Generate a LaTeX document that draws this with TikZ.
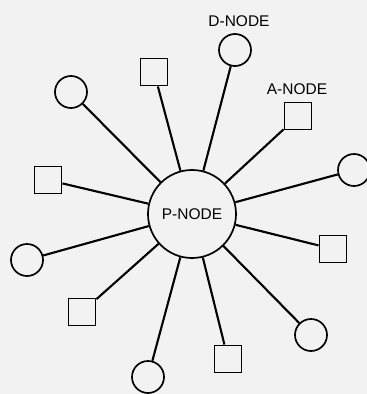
\documentclass[tikz,border=0pt]{standalone}
\usepackage{fontspec}
\setmainfont{Liberation Sans}
\usepackage{tikz}

\begin{document}
\begin{tikzpicture}[
x=0.025cm,
y=-0.025cm,
every node/.style={font=\fontsize{11}{13}\selectfont},
pnode/.style={circle,draw,line width=1.2pt,minimum size=2.2cm,inner sep=0pt},
dnode/.style={circle,draw,line width=1.2pt,minimum size=0.8cm,inner sep=0pt},
anode/.style={rectangle,draw,line width=1.2pt,minimum size=0.68cm,inner sep=0pt},
link/.style={line width=1.5pt},
lbl/.style={inner sep=1pt}
]
\fill[black!5] (0,0) rectangle (367,394);
\useasboundingbox (0,0) rectangle (367,394);

\node[pnode] (p) at (192,214) {P-NODE};

\node[dnode] (d1) at (235,50) {};
\node[anode] (a1) at (154,72) {};
\node[dnode] (d2) at (71,92) {};
\node[anode] (a2) at (298,116) {};
\node[dnode] (d3) at (354,170) {};
\node[anode] (a3) at (48,180) {};
\node[anode] (a4) at (333,249) {};
\node[dnode] (d4) at (27,260) {};
\node[anode] (a5) at (82,312) {};
\node[dnode] (d5) at (311,335) {};
\node[anode] (a6) at (228,359) {};
\node[dnode] (d6) at (148,377) {};

\node[lbl] (dlbl) at (239,21) {D-NODE};
\node[lbl] (albl) at (297,89) {A-NODE};

\foreach \s in {d1,a1,d2,a2,d3,a3,a4,d4,a5,d5,a6,d6}
  \draw[link] (\s) -- (p);
\end{tikzpicture}
\end{document}
